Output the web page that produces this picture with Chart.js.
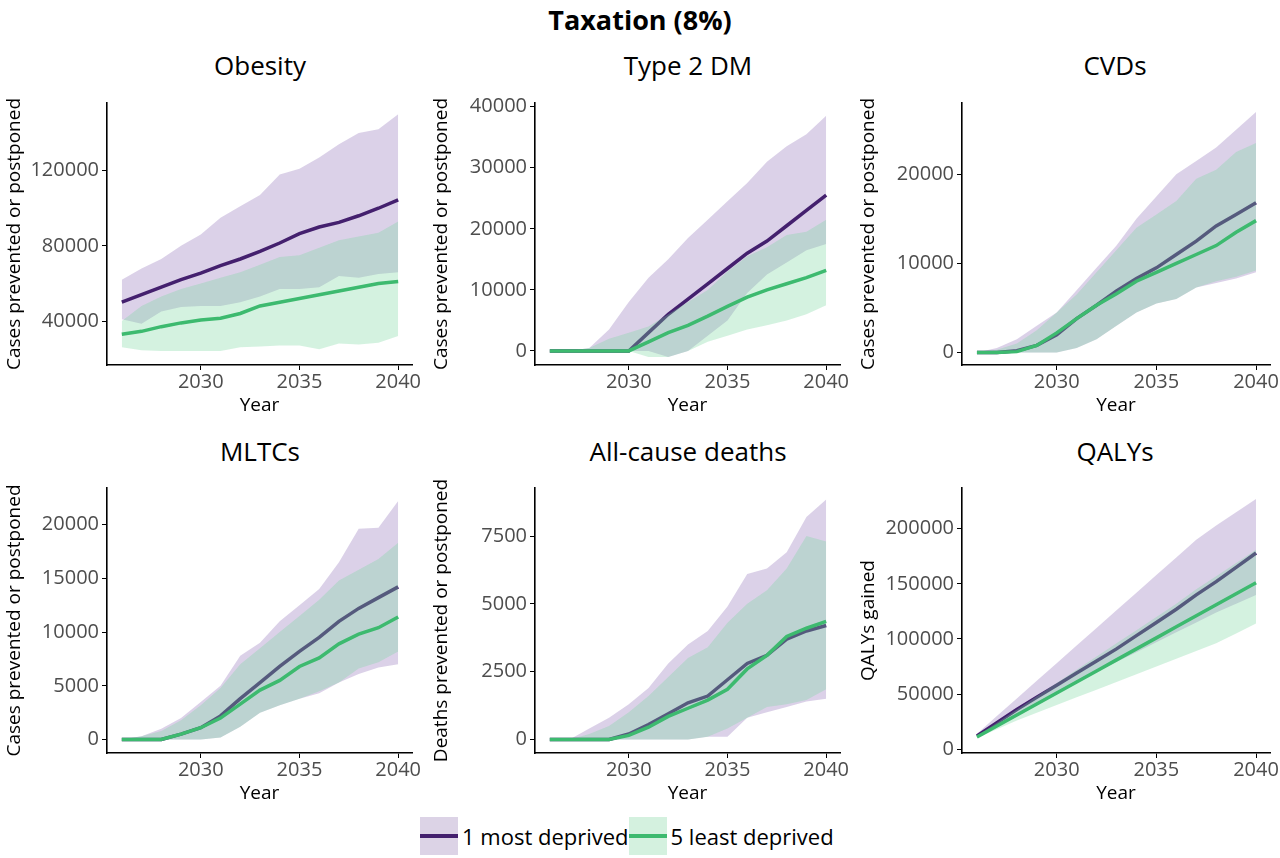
<!DOCTYPE html>
<html>
<head>
<meta charset="utf-8">
<script src="https://cdn.jsdelivr.net/npm/chart.js@4"></script>
<style>
  body { margin: 0; background: #fff; font-family: "Open Sans", sans-serif; }
  #wrap { position: relative; width: 1280px; height: 858px; }
  .c { position: absolute; }
  .ttl { position: absolute; width: 306px; text-align: center; font-size: 26px; color: #000; }
  #main { position: absolute; top: 1px; width: 1280px; text-align: center; font-size: 27px; font-weight: bold; }
  #legend { position: absolute; top: 817px; left: 420px; font-size: 22px; display: flex; align-items: center; }
  .sw { width: 38px; height: 38px; position: relative; margin-right: 4px; }
  .sw i { position: absolute; left: 0; right: 0; top: 17px; height: 4px; }
</style>
</head>
<body>
<div id="wrap">
  <div id="main">Taxation (8%)</div>
  <div id="legend">
    <div class="sw" style="background:#dcd3e6"><i style="background:#44206e"></i></div><span>1 most deprived</span>
    <div class="sw" style="background:#d4f1df"><i style="background:#3dba6f"></i></div><span>5 least deprived</span>
  </div>
</div>
<script>
// years shared by all panels
const years = [2026,2027,2028,2029,2030,2031,2032,2033,2034,2035,2036,2037,2038,2039,2040];
const xTicks = [2030, 2035, 2040];

// Obesity
const obesityMost = [50000,54000,58000,62000,65500,69500,73000,77000,81500,86500,90000,92500,96000,100000,104500];
const obesityMostHi = [62000,68000,73000,80000,86000,95000,101000,107000,118000,121000,127000,134000,140000,142000,150000];
const obesityMostLo = [41000,38500,45000,47500,48000,48000,50000,53000,57000,57000,58000,64000,63000,65000,66000];
const obesityLeast = [33000,34500,37000,39000,40500,41500,44000,48000,50000,52000,54000,56000,58000,60000,61000];
const obesityLeastHi = [40000,48000,53000,57000,60000,63000,66000,70000,74000,75000,79000,83000,85000,87000,93000];
const obesityLeastLo = [26000,24500,24000,24000,24000,24000,26000,26500,27000,27000,25000,28000,27500,28500,32000];

// Type 2 DM
const t2dmMost = [0,0,0,0,0,3000,6000,8500,11000,13500,16000,18000,20500,23000,25500];
const t2dmMostHi = [0,0,500,3500,8000,12000,15000,18500,21500,24500,27500,31000,33500,35500,38500];
const t2dmMostLo = [0,0,0,0,0,0,-1000,0,2500,5000,9500,12500,14500,16500,17500];
const t2dmLeast = [0,0,0,0,0,1500,3000,4200,5700,7300,8800,10000,11000,12000,13200];
const t2dmLeastHi = [0,0,500,2000,3000,4000,6000,8000,10000,13000,15500,17000,19000,19500,21500];
const t2dmLeastLo = [0,0,0,0,0,-1000,-1000,0,1500,2500,3500,4200,5000,6000,7500];

// CVDs
const cvdMost = [0,0,200,800,2000,3800,5300,6900,8300,9500,11000,12500,14200,15500,16800];
const cvdMostHi = [0,500,1500,3000,4500,7000,9500,12000,15000,17500,20000,21500,23000,25000,27000];
const cvdMostLo = [0,0,0,0,0,500,1500,3000,4500,5500,6000,7300,7800,8300,9000];
const cvdLeast = [0,0,100,800,2200,3800,5300,6600,8000,9000,10000,11000,12000,13500,14800];
const cvdLeastHi = [0,300,1000,2500,4500,6500,9000,11500,14000,15500,17000,19500,20500,22500,23500];
const cvdLeastLo = [0,0,0,0,0,500,1500,3000,4500,5500,6000,7300,8000,8500,9200];

// MLTCs
const mltcMost = [0,0,0,500,1100,2200,3800,5300,6800,8200,9500,11000,12200,13200,14200];
const mltcMostHi = [0,300,1000,2000,3500,5000,7800,9000,11000,12500,14000,16500,19600,19700,22200];
const mltcMostLo = [0,0,0,0,0,200,1200,2500,3200,3800,4300,5300,6100,6700,7000];
const mltcLeast = [0,0,0,500,1100,2000,3300,4600,5500,6800,7600,8900,9800,10400,11400];
const mltcLeastHi = [0,300,800,1800,3200,4800,7000,8500,10000,11500,13000,14800,15800,16800,18300];
const mltcLeastLo = [0,0,0,0,0,200,1200,2500,3200,3800,4500,5300,6600,7200,8200];

// All-cause deaths
const deathMost = [0,0,0,0,200,550,950,1350,1600,2200,2800,3100,3700,4000,4200];
const deathMostHi = [0,0,400,800,1300,1900,2800,3500,4000,4900,6100,6300,6900,8200,8850];
const deathMostLo = [0,0,0,0,0,0,0,0,100,100,800,1000,1200,1400,1500];
const deathLeast = [0,0,0,0,150,450,850,1150,1450,1850,2600,3100,3800,4100,4350];
const deathLeastHi = [0,0,200,500,1000,1600,2300,3000,3400,4300,5000,5500,6300,7500,7300];
const deathLeastLo = [0,0,0,0,0,0,0,0,100,400,800,1200,1300,1450,1850];

// QALYs
const qalyMost = [12000,24000,36000,47000,58000,69000,80000,91000,103000,115000,127000,140000,152000,165000,178000];
const qalyMostHi = [14000,30000,46000,62000,78000,94000,110000,126000,142000,158000,174000,190000,203000,215000,227000];
const qalyMostLo = [11000,21000,31000,41000,51000,61000,70000,79000,88000,97000,106000,115000,124000,132000,140000];
const qalyLeast = [11000,21000,31000,41000,51000,61000,71000,81000,91000,101000,111000,121000,131000,141000,151000];
const qalyLeastHi = [12000,24000,36000,48000,60000,72000,84000,96000,108000,120000,132000,145000,157000,169000,181000];
const qalyLeastLo = [10000,18000,26000,33000,40000,47000,54000,61000,68000,75000,82000,89000,96000,105000,114000];

const panels = [
  { title: 'Obesity', ylab: 'Cases prevented or postponed', col: 0, row: 0, ymin: 16600, ymax: 156000, ticks: [40000,80000,120000],
    most: obesityMost, mostHi: obesityMostHi, mostLo: obesityMostLo, least: obesityLeast, leastHi: obesityLeastHi, leastLo: obesityLeastLo },
  { title: 'Type 2 DM', ylab: 'Cases prevented or postponed', col: 1, row: 0, ymin: -2300, ymax: 40600, ticks: [0,10000,20000,30000,40000],
    most: t2dmMost, mostHi: t2dmMostHi, mostLo: t2dmMostLo, least: t2dmLeast, leastHi: t2dmLeastHi, leastLo: t2dmLeastLo },
  { title: 'CVDs', ylab: 'Cases prevented or postponed', col: 2, row: 0, ymin: -1400, ymax: 28000, ticks: [0,10000,20000],
    most: cvdMost, mostHi: cvdMostHi, mostLo: cvdMostLo, least: cvdLeast, leastHi: cvdLeastHi, leastLo: cvdLeastLo },
  { title: 'MLTCs', ylab: 'Cases prevented or postponed', col: 0, row: 1, ymin: -1250, ymax: 23400, ticks: [0,5000,10000,15000,20000],
    most: mltcMost, mostHi: mltcMostHi, mostLo: mltcMostLo, least: mltcLeast, leastHi: mltcLeastHi, leastLo: mltcLeastLo },
  { title: 'All-cause deaths', ylab: 'Deaths prevented or postponed', col: 1, row: 1, ymin: -500, ymax: 9270, ticks: [0,2500,5000,7500],
    most: deathMost, mostHi: deathMostHi, mostLo: deathMostLo, least: deathLeast, leastHi: deathLeastHi, leastLo: deathLeastLo },
  { title: 'QALYs', ylab: 'QALYs gained', col: 2, row: 1, ymin: -3500, ymax: 237000, ticks: [0,50000,100000,150000,200000],
    most: qalyMost, mostHi: qalyMostHi, mostLo: qalyMostLo, least: qalyLeast, leastHi: qalyLeastHi, leastLo: qalyLeastLo }
];

const colLeft = [0, 427, 854];
const rowTop = [88, 473];
const rowTitle = [47, 433];
const wrap = document.getElementById('wrap');

function pts(arr){ return years.map((y, i) => ({ x: y, y: arr[i] })); }

panels.forEach(p => {
  const yw = p.col == 0 ? 107 : 108;
  const t = document.createElement('div');
  t.className = 'ttl';
  t.style.left = (colLeft[p.col] + yw) + 'px';
  t.style.top = rowTitle[p.row] + 'px';
  t.textContent = p.title;
  wrap.appendChild(t);

  const cv = document.createElement('canvas');
  cv.className = 'c';
  const h = p.row == 0 ? 329 : 332;
  cv.style.left = colLeft[p.col] + 'px';
  cv.style.top = rowTop[p.row] + 'px';
  cv.style.width = '426px';
  cv.style.height = h + 'px';
  wrap.appendChild(cv);

  const band = { borderWidth: 0, pointRadius: 0, tension: 0 };
  const line = { pointRadius: 0, borderWidth: 3.5, fill: false, tension: 0 };
  // Chart.js draws the first dataset on top, so the list runs top to bottom
  new Chart(cv, {
    type: 'line',
    data: {
      datasets: [
        { ...line, data: pts(p.least), borderColor: '#3dba6f' },
        { ...band, data: pts(p.leastLo), fill: false },
        { ...band, data: pts(p.leastHi), fill: 1, backgroundColor: 'rgba(120,215,160,0.32)' },
        { ...line, data: pts(p.most), borderColor: '#44206e' },
        { ...band, data: pts(p.mostLo), fill: false },
        { ...band, data: pts(p.mostHi), fill: 4, backgroundColor: 'rgba(170,145,200,0.42)' }
      ]
    },
    options: {
      responsive: false,
      animation: false,
      layout: { padding: { top: 5, right: p.col == 0 ? 14 : (p.col == 1 ? 13 : 10), left: 0, bottom: 0 } },
      plugins: { legend: { display: false }, tooltip: { enabled: false } },
      scales: {
        x: {
          type: 'linear', min: 2025.25, max: 2040.7,
          afterBuildTicks: s => { s.ticks = xTicks.map(v => ({ value: v })); },
          afterFit: s => { s.height = 52; },
          grid: { drawOnChartArea: false, tickLength: 5, color: '#000' },
          border: { color: '#000', width: 1.6 },
          ticks: { color: '#4d4d4d', font: { family: 'Open Sans', size: 20 }, padding: 0, callback: v => String(v) },
          title: { display: true, text: 'Year', color: '#000', font: { family: 'Open Sans', size: 19 }, padding: 0 }
        },
        y: {
          min: p.ymin, max: p.ymax,
          afterBuildTicks: s => { s.ticks = p.ticks.map(v => ({ value: v })); },
          afterFit: s => { s.width = yw; },
          grid: { drawOnChartArea: false, tickLength: 5, color: '#000' },
          border: { color: '#000', width: 1.6 },
          ticks: { color: '#4d4d4d', font: { family: 'Open Sans', size: 20 }, padding: 3, callback: v => String(v) },
          title: { display: true, text: p.ylab, color: '#000', font: { family: 'Open Sans', size: 19 }, padding: { top: 3, bottom: 0 } }
        }
      }
    }
  });
});
</script>
</body>
</html>
